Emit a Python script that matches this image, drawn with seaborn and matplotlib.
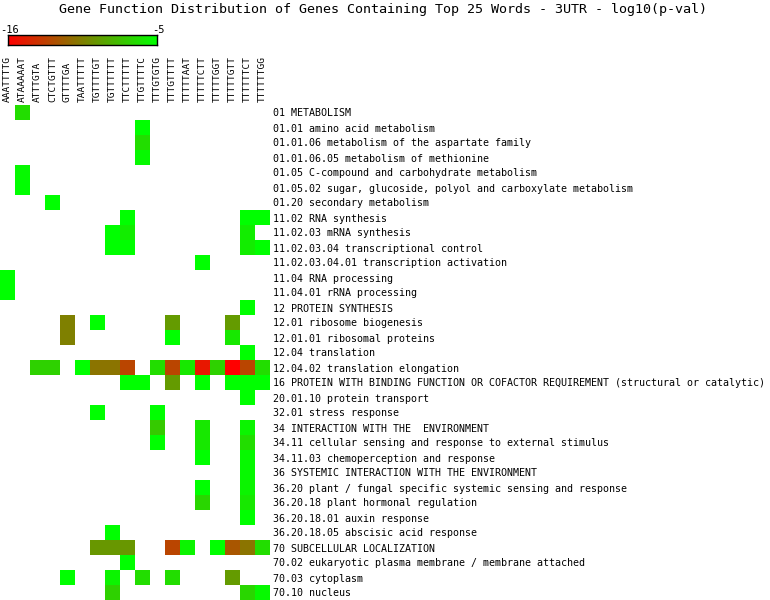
import numpy as np
import pandas as pd
import matplotlib
matplotlib.use("Agg")
import matplotlib.pyplot as plt
from matplotlib.colors import LinearSegmentedColormap
import seaborn as sns

title = "Gene Function Distribution of Genes Containing Top 25 Words - 3UTR - log10(p-val)"

words = ["AAATTTTG", "ATAAAAAT", "ATTTGTA", "CTCTGTTT", "GTTTTGA", "TAATTTTT",
         "TGTTTTGT", "TGTTTTTT", "TTCTTTTT", "TTGTTTTC", "TTTGTGTG", "TTTGTTTT",
         "TTTTTAAT", "TTTTTCTT", "TTTTTGGT", "TTTTTGTT", "TTTTTTCT", "TTTTTTGG"]

categories = [
    "01 METABOLISM",
    "01.01 amino acid metabolism",
    "01.01.06 metabolism of the aspartate family",
    "01.01.06.05 metabolism of methionine",
    "01.05 C-compound and carbohydrate metabolism",
    "01.05.02 sugar, glucoside, polyol and carboxylate metabolism",
    "01.20 secondary metabolism",
    "11.02 RNA synthesis",
    "11.02.03 mRNA synthesis",
    "11.02.03.04 transcriptional control",
    "11.02.03.04.01 transcription activation",
    "11.04 RNA processing",
    "11.04.01 rRNA processing",
    "12 PROTEIN SYNTHESIS",
    "12.01 ribosome biogenesis",
    "12.01.01 ribosomal proteins",
    "12.04 translation",
    "12.04.02 translation elongation",
    "16 PROTEIN WITH BINDING FUNCTION OR COFACTOR REQUIREMENT (structural or catalytic)",
    "20.01.10 protein transport",
    "32.01 stress response",
    "34 INTERACTION WITH THE  ENVIRONMENT",
    "34.11 cellular sensing and response to external stimulus",
    "34.11.03 chemoperception and response",
    "36 SYSTEMIC INTERACTION WITH THE ENVIRONMENT",
    "36.20 plant / fungal specific systemic sensing and response",
    "36.20.18 plant hormonal regulation",
    "36.20.18.01 auxin response",
    "36.20.18.05 abscisic acid response",
    "70 SUBCELLULAR LOCALIZATION",
    "70.02 eukaryotic plasma membrane / membrane attached",
    "70.03 cytoplasm",
    "70.10 nucleus",
]

# log10(p-value) per (category, word); missing = not significant
log10p = {
    0: {1: -6.5},
    1: {9: -5.0},
    2: {9: -6.5},
    3: {9: -5.3},
    4: {1: -5.3},
    5: {1: -5.0},
    6: {3: -5.0},
    7: {8: -5.0, 16: -5.0, 17: -5.0},
    8: {7: -5.0, 8: -5.8, 16: -5.8},
    9: {7: -5.0, 8: -5.0, 16: -5.8, 17: -5.0},
    10: {13: -5.0},
    11: {0: -5.0},
    12: {0: -5.0},
    13: {16: -5.0},
    14: {4: -10.5, 6: -5.0, 11: -9.3, 15: -9.3},
    15: {4: -10.5, 11: -5.0, 15: -6.0},
    16: {16: -5.0},
    17: {2: -7.0, 3: -7.0, 5: -5.0, 6: -11.0, 7: -11.0, 8: -13.0, 10: -6.5,
         11: -13.0, 12: -6.0, 13: -15.0, 14: -7.0, 15: -16.0, 16: -13.0, 17: -6.5},
    18: {8: -5.0, 9: -5.0, 11: -9.3, 13: -5.0, 15: -5.0, 16: -5.0, 17: -5.0},
    19: {16: -5.0},
    20: {6: -5.0, 10: -5.0},
    21: {10: -7.3, 13: -6.0, 16: -5.5},
    22: {10: -5.0, 13: -6.0, 16: -6.5},
    23: {13: -5.0, 16: -5.3},
    24: {16: -5.3},
    25: {13: -5.0, 16: -5.5},
    26: {13: -6.8, 16: -6.0},
    27: {16: -5.0},
    28: {7: -5.0},
    29: {6: -9.5, 7: -9.5, 8: -9.5, 11: -13.0, 12: -5.5, 14: -5.0, 15: -12.3,
         16: -11.0, 17: -6.5},
    30: {8: -5.0},
    31: {4: -5.0, 7: -5.5, 9: -6.5, 11: -6.5, 15: -9.3},
    32: {7: -7.0, 16: -6.8, 17: -5.3},
}

vmin, vmax = -16, -5

mat = np.full((len(categories), len(words)), np.nan)
for r, d in log10p.items():
    for c, v in d.items():
        mat[r, c] = v
df = pd.DataFrame(mat, index=categories, columns=words)

cmap = LinearSegmentedColormap.from_list("rg", ["#ff0000", "#00ff00"])
mono = "DejaVu Sans Mono"

W, H = 770, 600
fig = plt.figure(figsize=(W / 100, H / 100), dpi=100)
fig.patch.set_facecolor("white")

ax = fig.add_axes([0, 0, 270 / W, 495 / H])
sns.heatmap(df, ax=ax, cmap=cmap, vmin=vmin, vmax=vmax, cbar=False,
            square=False, linewidths=0)
ax.yaxis.tick_right()
ax.xaxis.tick_top()
ax.tick_params(length=0, pad=2)
ax.set_yticks(np.arange(len(categories)) + 0.5)
ax.set_yticklabels(categories, fontsize=7.2, family=mono, rotation=0, ha="left")
ax.set_xticks(np.arange(len(words)) + 0.5)
ax.set_xticklabels(words, fontsize=6.8, family=mono, rotation=90, va="bottom")
ax.set_xlabel("")
ax.set_ylabel("")
for s in ax.spines.values():
    s.set_visible(False)

fig.text(383 / W, 1 - 9 / H, title, ha="center", va="center",
         fontsize=9.6, family=mono)

# colour scale bar
cax = fig.add_axes([8 / W, 1 - 45 / H, 149 / W, 10 / H])
grad = np.linspace(vmin, vmax, 256).reshape(1, -1)
cax.imshow(grad, aspect="auto", cmap=cmap, vmin=vmin, vmax=vmax)
cax.set_xticks([])
cax.set_yticks([])
for s in cax.spines.values():
    s.set_color("black")
    s.set_linewidth(1)
fig.text(0 / W, 1 - 30 / H, "-16", ha="left", va="center", fontsize=7.5, family=mono)
fig.text(158 / W, 1 - 30 / H, "-5", ha="center", va="center", fontsize=7.5, family=mono)

fig.savefig("out.png", dpi=100, facecolor="white")
